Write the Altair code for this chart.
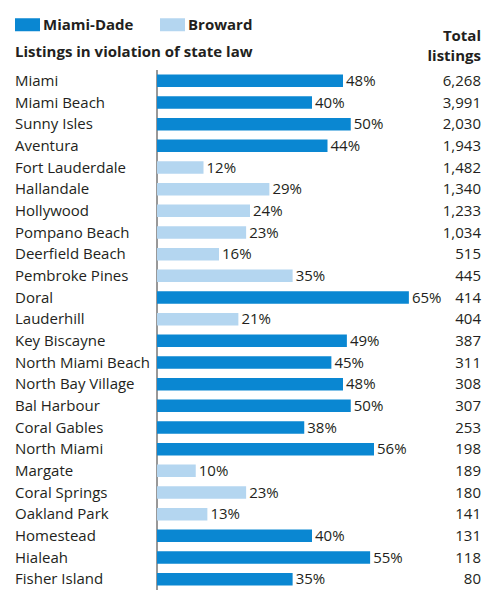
import altair as alt
import pandas as pd

cities = ["Miami", "Miami Beach", "Sunny Isles", "Aventura", "Fort Lauderdale",
          "Hallandale", "Hollywood", "Pompano Beach", "Deerfield Beach",
          "Pembroke Pines", "Doral", "Lauderhill", "Key Biscayne",
          "North Miami Beach", "North Bay Village", "Bal Harbour", "Coral Gables",
          "North Miami", "Margate", "Coral Springs", "Oakland Park", "Homestead",
          "Hialeah", "Fisher Island"]
pct = [48, 40, 50, 44, 12, 29, 24, 23, 16, 35, 65, 21, 49, 45, 48, 50, 38, 56,
       10, 23, 13, 40, 55, 35]
county = ["Miami-Dade", "Miami-Dade", "Miami-Dade", "Miami-Dade", "Broward",
          "Broward", "Broward", "Broward", "Broward", "Broward", "Miami-Dade",
          "Broward", "Miami-Dade", "Miami-Dade", "Miami-Dade", "Miami-Dade",
          "Miami-Dade", "Miami-Dade", "Broward", "Broward", "Broward",
          "Miami-Dade", "Miami-Dade", "Miami-Dade"]
totals = [6268, 3991, 2030, 1943, 1482, 1340, 1233, 1034, 515, 445, 414, 404,
          387, 311, 308, 307, 253, 198, 189, 180, 141, 131, 118, 80]
legend_labels = ["Miami-Dade", "Broward"]
colors = ["#0a87d2", "#b4d6f0"]
title_text = "Listings in violation of state law"
header_line1 = "Total"
header_line2 = "listings"

df = pd.DataFrame({"city": cities, "pct": pct, "county": county, "total": totals})
df["pct_label"] = df["pct"].astype(str) + "%"
df["total_label"] = df["total"].map(lambda v: f"{v:,}")

W, H = 310, 520
FONT = "Open Sans"
TXT = "#231f20"
LEFT = -142

y = alt.Y("city:N", sort=cities, axis=None,
          scale=alt.Scale(paddingInner=0.42, paddingOuter=0.21))
x = alt.X("pct:Q", axis=None, scale=alt.Scale(domain=[0, 80]))

base = alt.Chart(df)

bars = base.mark_bar().encode(
    x=x, y=y,
    color=alt.Color("county:N",
                    scale=alt.Scale(domain=legend_labels, range=colors),
                    legend=alt.Legend(orient="none", legendX=LEFT, legendY=-58,
                                      direction="horizontal", title=None,
                                      symbolType="M-1,-0.52H1V0.52H-1Z",
                                      symbolSize=625, symbolStrokeWidth=0,
                                      symbolOpacity=1,
                                      labelFont=FONT, labelFontSize=15,
                                      labelFontWeight="bold", labelColor=TXT,
                                      labelOffset=3, columnPadding=26)),
)

pct_text = base.mark_text(align="left", baseline="middle", dx=3, font=FONT,
                          fontSize=15, color=TXT).encode(
    x=x, y=y, text="pct_label:N")

city_text = base.mark_text(align="left", baseline="middle", font=FONT,
                           fontSize=15, color=TXT).encode(
    x=alt.value(LEFT), y=y, text="city:N")

total_text = base.mark_text(align="right", baseline="middle", font=FONT,
                            fontSize=15, color=TXT).encode(
    x=alt.value(324), y=y, text="total_label:N")

axis_rule = alt.Chart(pd.DataFrame({"v": [0]})).mark_rule(
    color="#333333", strokeWidth=1).encode(
    x=alt.value(0), y=alt.value(0), y2=alt.value(H))

title = alt.Chart(pd.DataFrame({"t": [title_text]})).mark_text(
    align="left", baseline="alphabetic", font=FONT, fontSize=15,
    fontWeight="bold", color=TXT).encode(
    x=alt.value(LEFT), y=alt.value(-13), text="t:N")

header1 = alt.Chart(pd.DataFrame({"t": [header_line1]})).mark_text(
    align="right", baseline="alphabetic", font=FONT, fontSize=15,
    fontWeight="bold", color=TXT).encode(
    x=alt.value(324), y=alt.value(-29), text="t:N")

header2 = alt.Chart(pd.DataFrame({"t": [header_line2]})).mark_text(
    align="right", baseline="alphabetic", font=FONT, fontSize=15,
    fontWeight="bold", color=TXT).encode(
    x=alt.value(324), y=alt.value(-9), text="t:N")

chart = alt.layer(axis_rule, bars, pct_text, city_text, total_text, title,
                  header1, header2).properties(
    width=W, height=H, background="white",
    autosize=alt.AutoSizeParams(type="none"),
    padding={"left": 157, "top": 70, "right": 25, "bottom": 0},
).configure_view(stroke=None)

chart.save("out.html", embed_options={"renderer": "svg", "actions": False})
